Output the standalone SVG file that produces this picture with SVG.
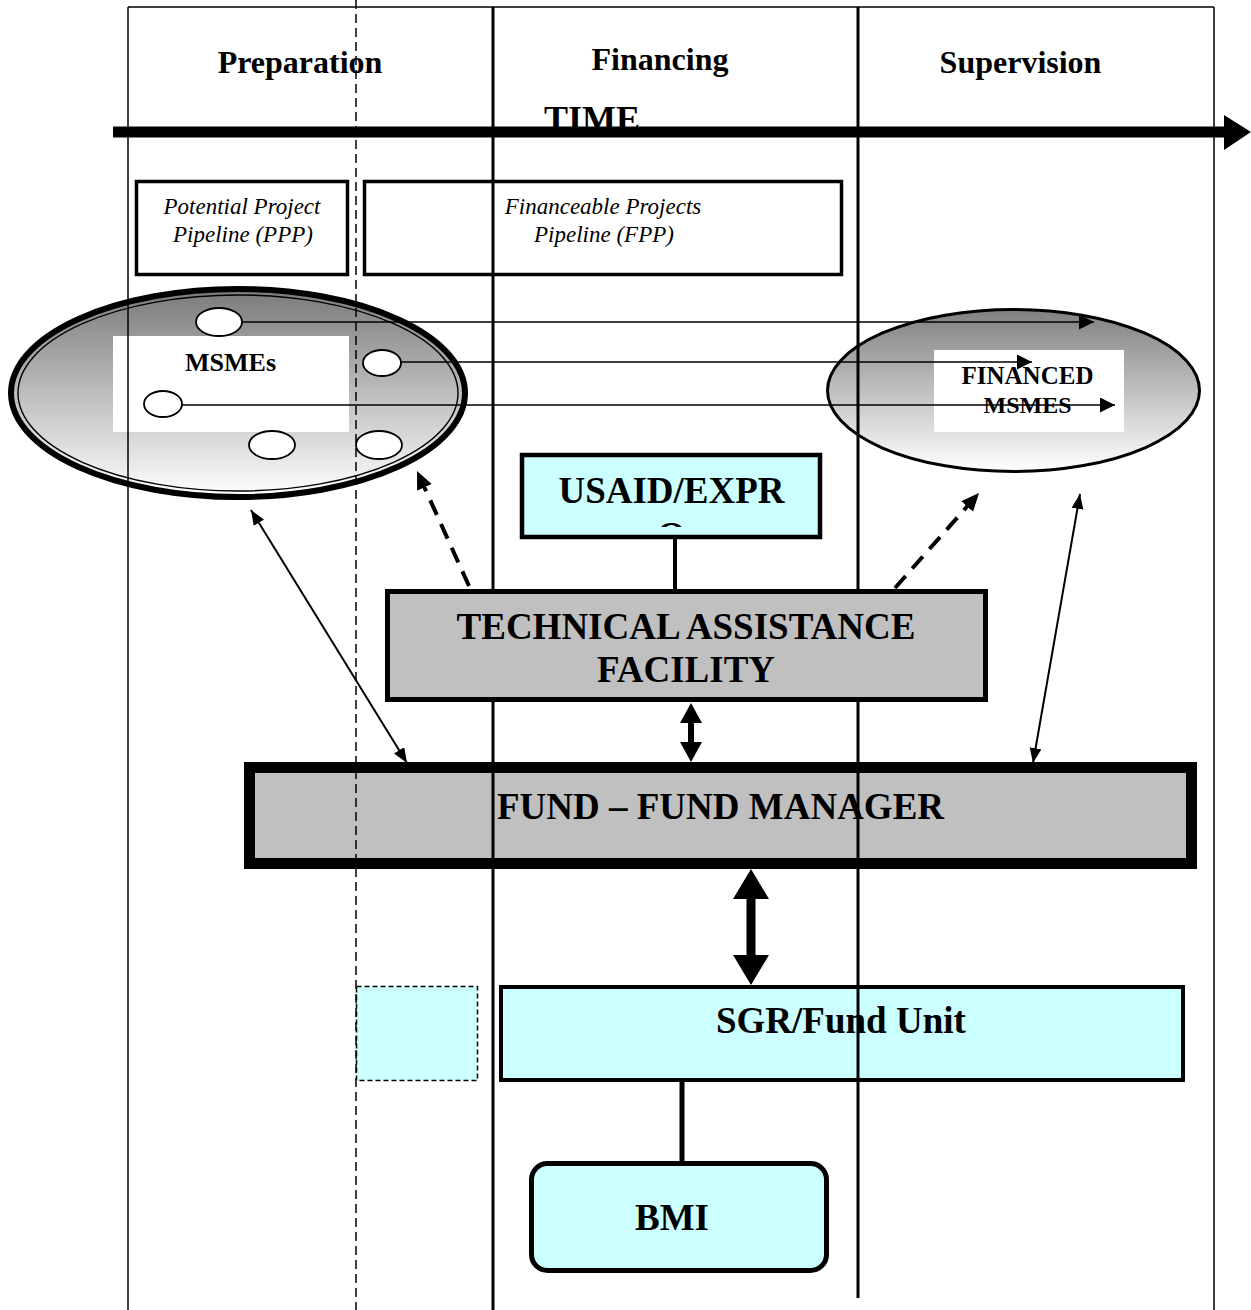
<svg xmlns="http://www.w3.org/2000/svg" width="1251" height="1310" viewBox="0 0 1251 1310">
<style>
.t{font-family:"Liberation Serif","Times New Roman",serif;font-weight:bold;fill:#000}
.it{font-family:"Liberation Serif","Times New Roman",serif;font-style:italic;font-size:23px;fill:#000}
.lane{stroke:#000;fill:none}
.box{stroke:#000}
.cyan{fill:#ccffff}
.gray{fill:#c0c0c0}
.small{fill:#fff;stroke:#000;stroke-width:1.8}
.flow{stroke:#000;stroke-width:1.6;fill:none;marker-end:url(#ah)}
.dbl{stroke:#000;stroke-width:2;fill:none;marker-start:url(#ah2);marker-end:url(#ah2)}
.dash{stroke:#000;stroke-width:4;stroke-dasharray:16 10;fill:none;marker-end:url(#ah3)}
</style>
<defs>
<linearGradient id="g1" x1="0" y1="0" x2="0" y2="1">
<stop offset="0" stop-color="#7a7a7a"/>
<stop offset="1" stop-color="#ffffff"/>
</linearGradient>
<linearGradient id="g2" x1="0" y1="0" x2="0" y2="1">
<stop offset="0" stop-color="#808080"/>
<stop offset="1" stop-color="#ffffff"/>
</linearGradient>
<marker id="ah" markerUnits="userSpaceOnUse" markerWidth="16" markerHeight="16" refX="15" refY="7.5" orient="auto">
<path d="M0,0 L15,7.5 L0,15 z" fill="#000"/>
</marker>
<marker id="ah2" markerUnits="userSpaceOnUse" markerWidth="16" markerHeight="14" refX="15" refY="6" orient="auto-start-reverse">
<path d="M0,0 L15,6 L0,12 z" fill="#000"/>
</marker>
<marker id="ah3" markerUnits="userSpaceOnUse" markerWidth="20" markerHeight="18" refX="18" refY="8" orient="auto">
<path d="M0,0 L18,8 L0,16 z" fill="#000"/>
</marker>
<clipPath id="clipO"><rect x="522" y="455" width="298" height="72"/></clipPath>
</defs>
<rect x="0" y="0" width="1251" height="1310" fill="#fff"/>

<g id="ppp">
<rect x="136.5" y="181.5" width="211" height="93" fill="#fff" class="box" stroke-width="3.5"/>
<text class="it" x="242" y="214" text-anchor="middle">Potential Project</text>
<text class="it" x="243" y="242" text-anchor="middle">Pipeline (PPP)</text>
</g>
<g id="fpp">
<rect x="364.5" y="181.5" width="477" height="93" fill="#fff" class="box" stroke-width="3.5"/>
<text class="it" x="603" y="214" text-anchor="middle">Financeable Projects</text>
<text class="it" x="604" y="242" text-anchor="middle">Pipeline (FPP)</text>
</g>

<g id="msmes">
<ellipse cx="238" cy="393" rx="227" ry="104" fill="url(#g1)" stroke="#000" stroke-width="6"/>
<ellipse cx="238" cy="393" rx="220" ry="98" fill="none" stroke="#000" stroke-width="1.4"/>
<rect x="113" y="336" width="236" height="96" fill="#fff"/>
<text class="t" x="230.5" y="371" font-size="26" text-anchor="middle">MSMEs</text>
<ellipse class="small" cx="219" cy="322" rx="23" ry="14"/>
<ellipse class="small" cx="382" cy="363" rx="19" ry="13"/>
<ellipse class="small" cx="163" cy="404" rx="19" ry="13"/>
<ellipse class="small" cx="272" cy="445" rx="23" ry="14"/>
<ellipse class="small" cx="379" cy="445" rx="23" ry="14"/>
</g>

<g id="financed">
<ellipse cx="1013.5" cy="390.5" rx="186" ry="81" fill="url(#g2)" stroke="#000" stroke-width="3"/>
<rect x="934" y="350" width="190" height="82" fill="#fff"/>
<text class="t" x="1027.5" y="384" font-size="25" text-anchor="middle">FINANCED</text>
<text class="t" x="1027.5" y="413" font-size="24" text-anchor="middle">MSMES</text>
</g>

<g id="fund">
<rect x="249.5" y="767.5" width="942" height="96" class="box gray" stroke-width="11"/>
<text class="t" x="497" y="819" font-size="37">FUND – FUND MANAGER</text>
</g>

<g id="sgr">
<rect x="501" y="987" width="682" height="93" class="box cyan" stroke-width="4"/>
<text class="t" x="716" y="1033" font-size="37">SGR/Fund Unit</text>
</g>

<g id="dashed-box">
<rect x="356.5" y="986.5" width="121" height="94" class="cyan" stroke="#000" stroke-width="1.5" stroke-dasharray="5 3"/>
</g>

<g id="headers">
<text class="t" x="300" y="73" font-size="32" text-anchor="middle">Preparation</text>
<text class="t" x="660" y="70" font-size="32" text-anchor="middle">Financing</text>
<text class="t" x="1020.5" y="73" font-size="32" text-anchor="middle">Supervision</text>
<text class="t" x="592" y="131" font-size="36" text-anchor="middle">TIME</text>
</g>

<g id="lanes">
<line class="lane" x1="128" y1="7" x2="128" y2="1310" stroke-width="1.5"/>
<line class="lane" x1="128" y1="7" x2="1214" y2="7" stroke-width="1.5"/>
<line class="lane" x1="1214" y1="7" x2="1214" y2="1310" stroke-width="1.5"/>
<line class="lane" x1="493" y1="7" x2="493" y2="1310" stroke-width="3"/>
<line class="lane" x1="858" y1="7" x2="858" y2="1298" stroke-width="3"/>
<line class="lane" x1="356" y1="0" x2="356" y2="1310" stroke-width="1.5" stroke-dasharray="9 5"/>
</g>

<g id="time-axis">
<line x1="113" y1="132" x2="1226" y2="132" stroke="#000" stroke-width="11"/>
<path d="M1224,115 L1251,132 L1224,150 z" fill="#000"/>
</g>

<g id="ta">
<rect x="387.5" y="591.5" width="598" height="108" class="box gray" stroke-width="5"/>
<text class="t" x="686" y="639" font-size="37" text-anchor="middle">TECHNICAL ASSISTANCE</text>
<text class="t" x="686" y="682" font-size="37" text-anchor="middle">FACILITY</text>
</g>

<g id="usaid">
<rect x="522" y="455" width="298" height="82" class="box cyan" stroke-width="4.5"/>
<text class="t" x="671.5" y="503" font-size="37" text-anchor="middle">USAID/EXPR</text>
<text class="t" x="671.5" y="548" font-size="37" text-anchor="middle" clip-path="url(#clipO)">O</text>
</g>

<g id="bmi">
<rect x="531.5" y="1163.5" width="295" height="107" rx="16" class="box cyan" stroke-width="5"/>
<text class="t" x="672" y="1230" font-size="37" text-anchor="middle">BMI</text>
</g>

<g id="connectors">
<line class="flow" x1="242" y1="322" x2="1094" y2="322"/>
<line class="flow" x1="401" y1="362" x2="1032" y2="362"/>
<line class="flow" x1="182" y1="405" x2="1115" y2="405"/>
<line x1="675" y1="537" x2="675" y2="590" stroke="#000" stroke-width="4"/>
<line x1="682" y1="1082" x2="682" y2="1162" stroke="#000" stroke-width="5"/>
<line class="dbl" x1="251" y1="510" x2="407" y2="763"/>
<line class="dbl" x1="1080" y1="494" x2="1033" y2="763"/>
<line class="dash" x1="469" y1="586" x2="417" y2="471"/>
<line class="dash" x1="895" y1="588" x2="979" y2="493"/>
<path d="M691,703 L702,723 L694,723 L694,742 L702,742 L691,762 L680,742 L688,742 L688,723 L680,723 z" fill="#000"/>
<path d="M751,869 L769,899 L755.5,899 L755.5,955 L769,955 L751,985 L733,955 L746.5,955 L746.5,899 L733,899 z" fill="#000"/>
</g>
</svg>
